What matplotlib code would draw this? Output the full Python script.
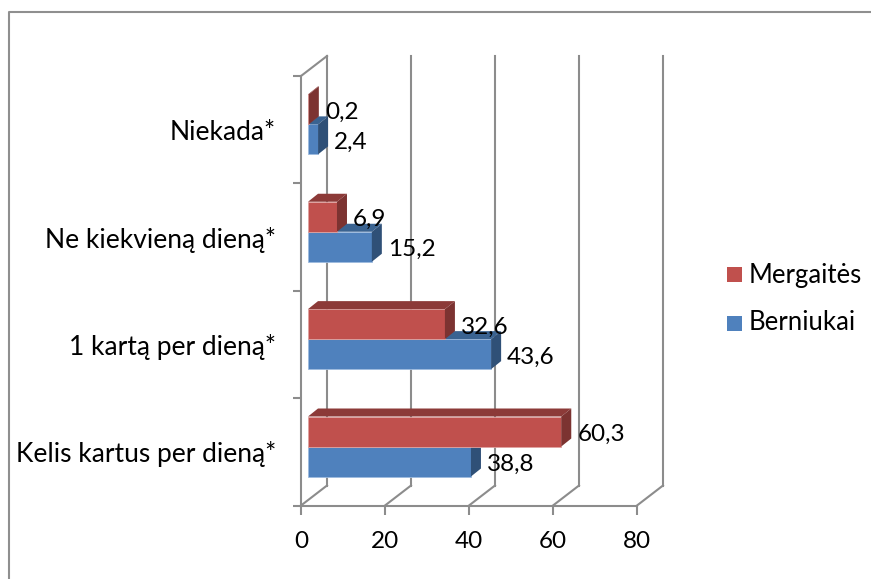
import matplotlib
matplotlib.use('Agg')
import matplotlib.pyplot as plt
from matplotlib.patches import Polygon, Rectangle

plt.rcParams['font.family'] = ['Lato', 'DejaVu Sans']

kategorijos = ['Kelis kartus per dieną*', '1 kartą per dieną*', 'Ne kiekvieną dieną*', 'Niekada*']
berniukai = [38.8, 43.6, 15.2, 2.4]
mergaites = [60.3, 32.6, 6.9, 0.2]
x_ticks = [0, 20, 40, 60, 80]

W, H = 871, 579
fig = plt.figure(figsize=(W / 100, H / 100), dpi=100)
ax = fig.add_axes([301 / W, (H - 505.5) / H, 336 / W, 429.5 / H])
ax.set_xlim(0, 80)
ax.set_ylim(0, 4)

# pikseliai -> duomenu vienetai
px = 80 / 336
py = 4 / 429.5
fx, fy = 26 * px, 20 * py   # sienos gylis
bx, by = 10 * px, 8 * py    # stulpelio gylis
x0 = 7 * px
h = 30 * py
pilka = '#8c8c8c'
sk_dydis = 17.5
tekst_dydis = 18.5

# galine siena ir grindys
for t in x_ticks:
    ax.plot([t + fx, t + fx], [fy, 4 + fy], color=pilka, lw=1.5, clip_on=False, zorder=1)
    ax.plot([t, t + fx], [0, fy], color=pilka, lw=1.5, clip_on=False, zorder=1)
ax.plot([0, fx], [4, 4 + fy], color=pilka, lw=1.5, clip_on=False, zorder=1)


def stulpelis(v, apacia, priekis, virsus, sonas, krastas, z):
    ax.add_patch(Rectangle((x0, apacia), v, h, facecolor=priekis, edgecolor=krastas, lw=0.6, clip_on=False, zorder=z))
    ax.add_patch(Polygon([(x0, apacia + h), (x0 + v, apacia + h), (x0 + v + bx, apacia + h + by), (x0 + bx, apacia + h + by)],
                         facecolor=virsus, edgecolor='none', clip_on=False, zorder=z))
    ax.add_patch(Polygon([(x0 + v, apacia), (x0 + v + bx, apacia + by), (x0 + v + bx, apacia + h + by), (x0 + v, apacia + h)],
                         facecolor=sonas, edgecolor='none', clip_on=False, zorder=z))


for i in range(4):
    apacia = i + 29 * py
    stulpelis(berniukai[i], apacia, '#4f81bd', '#3a6391', '#2f5077', '#9dbbdf', 3)
    stulpelis(mergaites[i], apacia + h, '#c0504d', '#8c3a38', '#7c3331', '#e0a3a1', 4)
    ax.text(x0 + berniukai[i] + bx + 6 * px, apacia + h / 2 - 3 * py, str(berniukai[i]).replace('.', ','),
            fontsize=sk_dydis, va='center', ha='left', zorder=6, clip_on=False)
    ax.text(x0 + mergaites[i] + bx + 6 * px, apacia + h * 1.5 - 3 * py, str(mergaites[i]).replace('.', ','),
            fontsize=sk_dydis, va='center', ha='left', zorder=6, clip_on=False)

for s in ['top', 'right']:
    ax.spines[s].set_visible(False)
for s in ['left', 'bottom']:
    ax.spines[s].set_color(pilka)
    ax.spines[s].set_linewidth(1.5)
ax.patch.set_alpha(0)

ax.set_xticks(x_ticks)
ax.tick_params(axis='x', length=6.5, width=1.5, color=pilka, labelsize=sk_dydis, pad=12)
ax.set_yticks(range(5))
ax.set_yticklabels([])
ax.tick_params(axis='y', length=5.5, width=1.5, color=pilka)
ax.set_yticks([i + 0.5 for i in range(4)], minor=True)
ax.set_yticklabels(kategorijos, minor=True, fontsize=19, va='center_baseline')
ax.tick_params(axis='y', which='minor', length=0, pad=18)

# remelis ir legenda figuros koordinatemis
fig.add_artist(plt.Line2D([8.5 / W, 8.5 / W, 1], [0, 1 - 11.5 / H, 1 - 11.5 / H],
                          color='#8f8f8f', lw=1.5))
fig.add_artist(Rectangle((727 / W, 1 - 282 / H), 15 / W, 15 / H, facecolor='#c0504d', transform=fig.transFigure))
fig.add_artist(Rectangle((727 / W, 1 - 331 / H), 15 / W, 15 / H, facecolor='#4f81bd', transform=fig.transFigure))
fig.text(749 / W, 1 - 275 / H, 'Mergaitės', fontsize=tekst_dydis, va='center')
fig.text(749 / W, 1 - 323 / H, 'Berniukai', fontsize=tekst_dydis, va='center')

plt.savefig('out.png', dpi=100)
